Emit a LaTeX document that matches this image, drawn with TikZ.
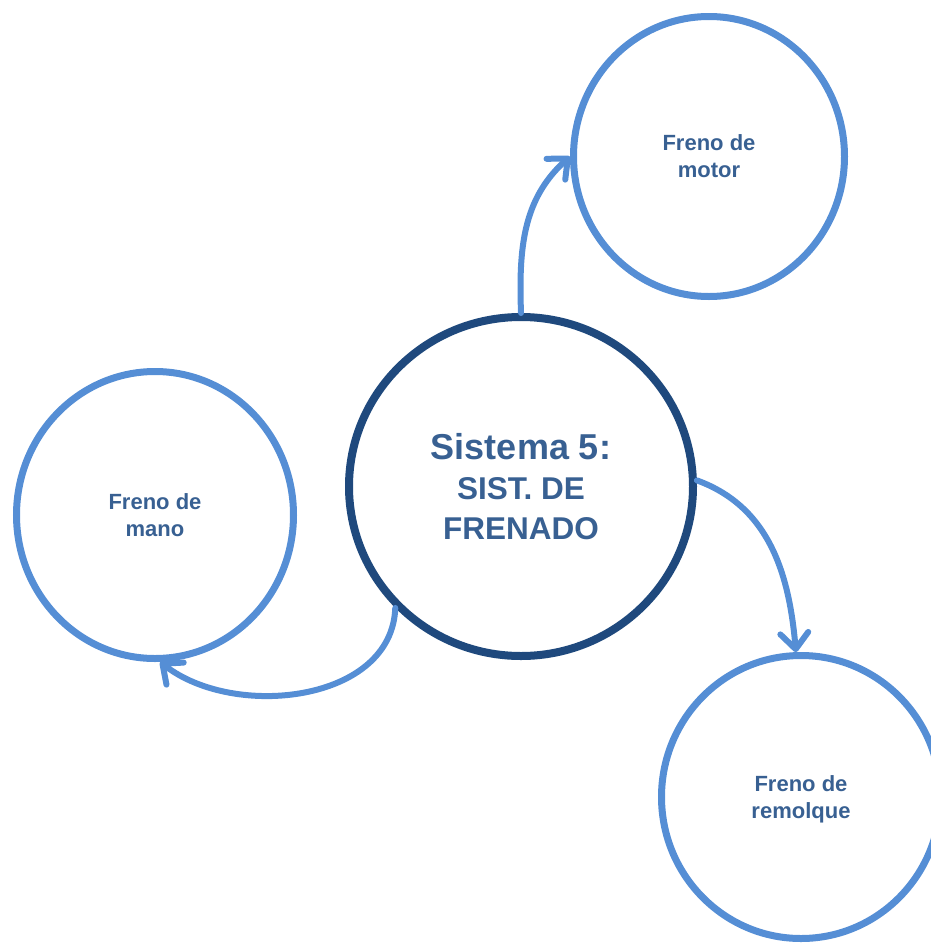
\documentclass[tikz,border=0pt]{standalone}
\usepackage{fontspec}
\setmainfont{Liberation Sans}
\usetikzlibrary{arrows.meta,shapes.geometric}
\definecolor{ringblue}{RGB}{85,142,213}
\definecolor{hubblue}{RGB}{31,73,125}
\definecolor{labelblue}{RGB}{56,96,146}
\begin{document}
\begin{tikzpicture}[x=1pt,y=-1pt,
  hub/.style={ellipse, draw=hubblue, line width=8pt, inner sep=0pt,
    minimum width=344pt, minimum height=339pt,
    align=center, text=labelblue, font=\bfseries\fontsize{31.5}{40}\selectfont},
  sat/.style={ellipse, draw=ringblue, line width=7pt, inner sep=0pt,
    align=center, text=labelblue, font=\bfseries\fontsize{22}{27}\selectfont},
  link/.style={draw=ringblue, line width=6pt, line cap=round,
    -{Straight Barb[length=16pt,width=28pt,line cap=round,line join=round]}}]
\useasboundingbox (0,0) rectangle (931,943);

% central system and its three brakes
\node[hub] (hub) at (521,486.5) {{\fontsize{36}{40}\selectfont Sistema 5:}\\SIST. DE\\FRENADO};
\node[sat, minimum width=271pt, minimum height=280pt] (motor) at (709,156.5) {Freno de\\motor};
\node[sat, minimum width=277pt, minimum height=287pt] (mano) at (155,515) {Freno de\\mano};
\node[sat, minimum width=279pt, minimum height=283pt] (remolque) at (801,797) {Freno de\\\smash{remolque}};

% curved links
\draw[link] (hub.90) to[out=92, in=222] (motor.180);
\draw[link] (hub.2) to[out=-20, in=95] (remolque.92);
\draw[link] (hub.224) to[out=-92, in=-38] (mano.272);
\end{tikzpicture}
\end{document}
